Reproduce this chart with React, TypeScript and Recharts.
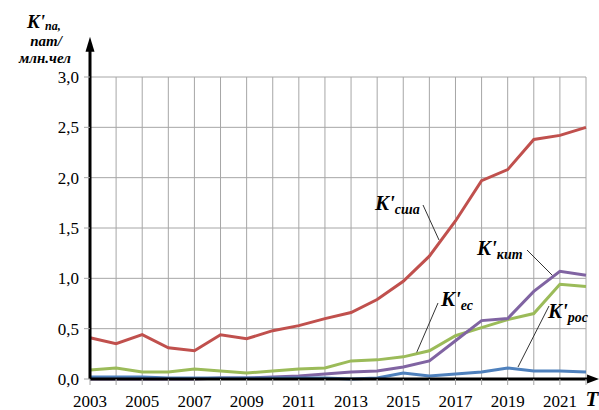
import React from "react";
import {
  LineChart,
  Line,
  XAxis,
  YAxis,
  CartesianGrid,
  ReferenceLine,
  Customized,
} from "recharts";

const years = [2003, 2004, 2005, 2006, 2007, 2008, 2009, 2010, 2011, 2012, 2013, 2014, 2015, 2016, 2017, 2018, 2019, 2020, 2021, 2022];
const usa = [0.41, 0.35, 0.44, 0.31, 0.28, 0.44, 0.40, 0.48, 0.53, 0.60, 0.66, 0.79, 0.97, 1.22, 1.57, 1.97, 2.08, 2.38, 2.42, 2.50];
const eu = [0.09, 0.11, 0.07, 0.07, 0.10, 0.08, 0.06, 0.08, 0.10, 0.11, 0.18, 0.19, 0.22, 0.28, 0.43, 0.51, 0.59, 0.65, 0.94, 0.92];
const china = [0.0, 0.0, 0.0, 0.0, 0.0, 0.01, 0.01, 0.02, 0.03, 0.05, 0.07, 0.08, 0.12, 0.18, 0.38, 0.58, 0.60, 0.87, 1.07, 1.03];
const russia = [0.02, 0.02, 0.02, 0.01, 0.01, 0.01, 0.01, 0.01, 0.01, 0.01, 0.0, 0.01, 0.06, 0.03, 0.05, 0.07, 0.11, 0.08, 0.08, 0.07];
const yTicks = [0, 0.5, 1, 1.5, 2, 2.5, 3];

const data = years.map((y, i) => ({ year: y, usa: usa[i], eu: eu[i], china: china[i], russia: russia[i] }));

const serif = "Liberation Serif, Times New Roman, DejaVu Serif, serif";

// axis with arrow head at the far end
const ArrowLine = (props: any) => {
  const { x1, y1, x2, y2 } = props;
  const vertical = Math.abs(x1 - x2) < 1;
  const head = vertical
    ? `${x2},${y2} ${x2 - 4.5},${y2 + 15} ${x2 + 4.5},${y2 + 15}`
    : `${x2},${y2} ${x2 - 12},${y2 - 4.5} ${x2 - 12},${y2 + 4.5}`;
  return (
    <g>
      <line x1={x1} y1={y1} x2={vertical ? x2 : x2 - 8} y2={vertical ? y2 + 8 : y2} stroke="#000" strokeWidth={3} />
      <polygon points={head} fill="#000" />
    </g>
  );
};

const labelStyle = { fontFamily: serif, fontStyle: "italic", fontWeight: "bold" } as const;

const Tag = ({ x, y, main, sub }: { x: number; y: number; main: string; sub: string }) => (
  <text x={x} y={y} style={labelStyle} fill="#000">
    <tspan fontSize={21}>{main}</tspan>
    <tspan fontSize={14} dy={4}>{sub}</tspan>
  </text>
);

const Notes = () => (
  <g>
    <Tag x={375} y={210} main="K'" sub="сша" />
    <line x1={423} y1={205} x2={439} y2={240} stroke="#333" strokeWidth={1} />
    <Tag x={477} y={255} main="K'" sub="кит" />
    <line x1={527} y1={250} x2={553} y2={276} stroke="#333" strokeWidth={1} />
    <Tag x={441} y={306} main="K'" sub="ес" />
    <line x1={438} y1={303} x2={416} y2={354} stroke="#333" strokeWidth={1} />
    <Tag x={548} y={318} main="K'" sub="рос" />
    <line x1={549} y1={306} x2={518} y2={367} stroke="#333" strokeWidth={1} />
    {/* y axis caption, three lines */}
    <text x={27} y={28} style={labelStyle} fill="#000">
      <tspan fontSize={19}>K'</tspan>
      <tspan fontSize={12} dy={2}>па,</tspan>
    </text>
    <text x={46} y={46} style={labelStyle} fontSize={15} fill="#000" textAnchor="middle">пат/</text>
    <text x={45} y={63} style={labelStyle} fontSize={15} fill="#000" textAnchor="middle">млн.чел</text>
    <text x={592} y={406} style={labelStyle} fontSize={21} fill="#000" textAnchor="middle">T</text>
  </g>
);

const tickStyle = { fontFamily: serif, fontSize: 17, fill: "#000" };

export default function App() {
  return (
    <div style={{ position: "absolute", left: 0, top: 0, background: "#fff" }}>
      <LineChart width={599} height={410} data={data} margin={{ top: 77, right: 13, bottom: 0, left: 0 }}>
        <CartesianGrid stroke="#a6a6a6" strokeWidth={1} />
        <XAxis
          dataKey="year"
          type="number"
          domain={[2003, 2022]}
          ticks={years}
          interval={0}
          height={31}
          axisLine={false}
          tickLine={{ stroke: "#a6a6a6" }}
          tickSize={6}
          tickMargin={10}
          tick={tickStyle}
          tickFormatter={(v: number) => ((v - 2003) % 2 === 0 ? String(v) : "")}
        />
        <YAxis
          type="number"
          domain={[0, 3]}
          ticks={yTicks}
          width={90}
          axisLine={false}
          tickLine={{ stroke: "#a6a6a6" }}
          tickSize={6}
          tickMargin={5}
          tick={tickStyle}
          tickFormatter={(v: number) => v.toFixed(1).replace(".", ",")}
        />
        <Line dataKey="usa" stroke="#c0504d" strokeWidth={3} dot={false} isAnimationActive={false} />
        <Line dataKey="eu" stroke="#9bbb59" strokeWidth={3} dot={false} isAnimationActive={false} />
        <Line dataKey="china" stroke="#8064a2" strokeWidth={3} dot={false} isAnimationActive={false} />
        <Line dataKey="russia" stroke="#4f81bd" strokeWidth={3} dot={false} isAnimationActive={false} />
        <ReferenceLine
          segment={[{ x: 2003, y: 0 }, { x: 2022.5, y: 0 }]}
          ifOverflow="visible"
          shape={ArrowLine}
        />
        <ReferenceLine
          segment={[{ x: 2003, y: 0 }, { x: 2003, y: 3.4 }]}
          ifOverflow="visible"
          shape={ArrowLine}
        />
        <Customized component={<Notes />} />
      </LineChart>
    </div>
  );
}
